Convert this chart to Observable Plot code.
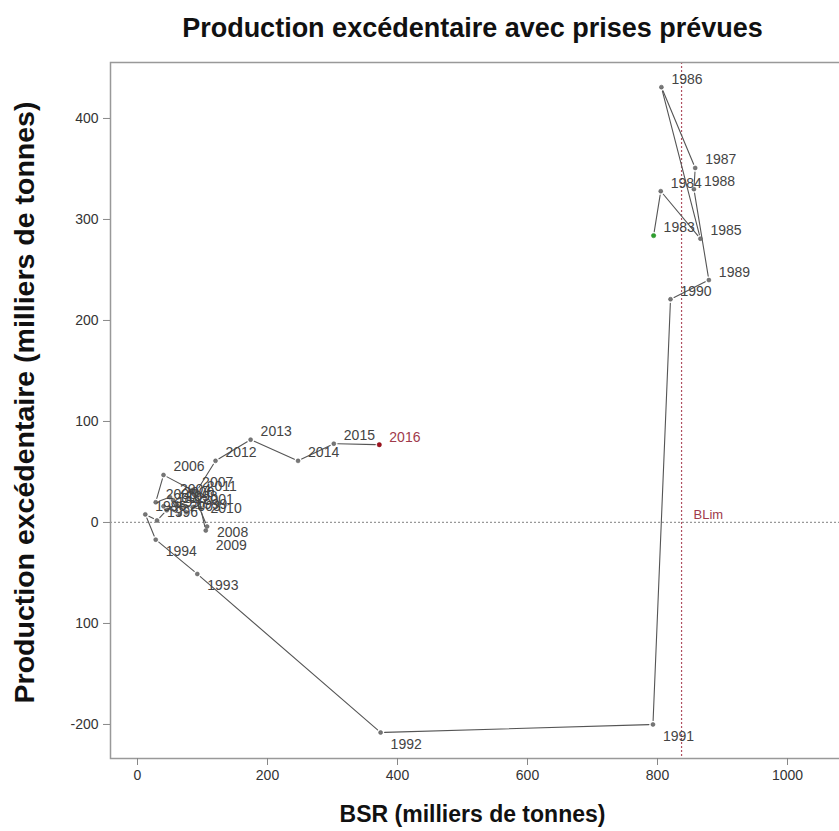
<!DOCTYPE html>
<html>
<head>
<meta charset="utf-8">
<script src="https://cdn.jsdelivr.net/npm/d3@7"></script>
<script src="https://cdn.jsdelivr.net/npm/@observablehq/plot@0.6"></script>
<style>
  html, body { margin: 0; padding: 0; background: #fff; }
  #chart svg { display: block; }
</style>
</head>
<body>
<div id="chart"></div>
<script>
// ---- data ----
const years = [1983,1984,1985,1986,1987,1988,1989,1990,1991,1992,1993,1994,1995,1996,1997,1998,1999,2000,2001,2002,2003,2004,2005,2006,2007,2008,2009,2010,2011,2012,2013,2014,2015,2016];
const bsr = [794,805,866,806,858,856,879,820,793,374,92,28,12,30,45,60,75,55,85,40,65,50,28,40,84,107,105,97,91,120,174,247,302,372];
const surplus = [284,328,281,431,351,330,240,221,-200,-208,-51,-17,8,2,12,18,10,22,15,16,8,25,20,47,32,-4,-8,14,31,61,82,61,78,77];
const blim = 837;
const xTicks = [0,200,400,600,800,1000];
const yTicks = [-200,-100,0,100,200,300,400];
const yTickLabels = ["-200","100","0","100","200","300","400"];
const title = "Production excédentaire avec prises prévues";
const xLabel = "BSR (milliers de tonnes)";
const yLabel = "Production excédentaire (milliers de tonnes)";
const blimLabel = "BLim";

// years whose label sits below the point instead of above-right
const belowYears = [1991,1992,1993,1994];

const pts = years.map((yr,i)=>({year: yr, x: bsr[i], y: surplus[i]}));
const segs = pts.slice(1).map((p,i)=>({x1: pts[i].x, y1: pts[i].y, x2: p.x, y2: p.y}));
const first = pts[0], last = pts[pts.length-1];
const yLabMap = new Map(yTicks.map((t,i)=>[t, yTickLabels[i]]));
const special = new Set([...belowYears, 2008, 2009, 2010, 2011, last.year]);
const grp = f => pts.filter(f);

const font = "'Liberation Sans', Arial, sans-serif";
const labStyle = {x: "x", y: "y", text: d => String(d.year), textAnchor: "start", dx: 10, fill: "#444", fontSize: 14};

const chart = Plot.plot({
  width: 839,
  height: 831,
  marginLeft: 110,
  marginRight: -3,
  marginTop: 62,
  marginBottom: 73,
  style: {fontFamily: font, background: "#fff", color: "#333"},
  x: {domain: [-41.54, 1084.6]},
  y: {domain: [-233.7, 455.4]},
  marks: [
    Plot.ruleY([0], {stroke: "#999", strokeDasharray: "2,2", strokeWidth: 1.2}),
    Plot.ruleX([blim], {stroke: "#b05060", strokeDasharray: "2,2", strokeWidth: 1.2}),
    Plot.text([blimLabel], {x: [blim], y: [0], text: d => d, textAnchor: "start", dx: 12, dy: -8, fill: "#a03a4a", fontSize: 13}),
    Plot.arrow(segs, {x1: "x1", y1: "y1", x2: "x2", y2: "y2", headLength: 0, inset: 4, stroke: "#555", strokeWidth: 1.1}),
    Plot.dot(pts.slice(1, -1), {x: "x", y: "y", r: 2, fill: "#777", stroke: "#555", strokeWidth: 0.5}),
    Plot.dot([first], {x: "x", y: "y", r: 2.2, fill: "#2ca02c", stroke: "#2a8a2a", strokeWidth: 0.5}),
    Plot.dot([last], {x: "x", y: "y", r: 2.2, fill: "#a01020", stroke: "#801010", strokeWidth: 0.5}),
    Plot.text(grp(d => !special.has(d.year)), {...labStyle, dy: -8}),
    Plot.text(grp(d => belowYears.includes(d.year)), {...labStyle, dy: 12}),
    Plot.text(grp(d => d.year === 2008), {...labStyle, dy: 6}),
    Plot.text(grp(d => d.year === 2009), {...labStyle, dy: 15}),
    Plot.text(grp(d => d.year === 2010), {...labStyle, dy: 0}),
    Plot.text(grp(d => d.year === 2011), {...labStyle, dy: -5}),
    Plot.text([last], {...labStyle, dy: -7, fill: "#a03a4a"}),
    Plot.frame({stroke: "#999", strokeWidth: 1.5}),
    Plot.axisX({ticks: xTicks, tickSize: 7, tickPadding: 5, fontSize: 14, stroke: "#888", label: null, fill: "#333", tickFormat: d => String(d)}),
    Plot.axisY({ticks: yTicks, tickSize: 7, tickPadding: 5, fontSize: 14, stroke: "#888", label: null, fill: "#333", tickFormat: d => yLabMap.get(d)}),
    Plot.text([title], {frameAnchor: "top", text: d => d, dx: -4, dy: -45, fontSize: 27, fontWeight: "bold", fill: "#111"}),
    Plot.text([xLabel], {frameAnchor: "bottom", text: d => d, dx: -4, dy: 63, fontSize: 23, fontWeight: "bold", fill: "#111"}),
    Plot.text([yLabel], {frameAnchor: "left", textAnchor: "middle", text: d => d, rotate: -90, dx: -86, dy: -8, fontSize: 28.5, fontWeight: "bold", fill: "#111"})
  ]
});
document.getElementById("chart").appendChild(chart);
</script>
</body>
</html>
